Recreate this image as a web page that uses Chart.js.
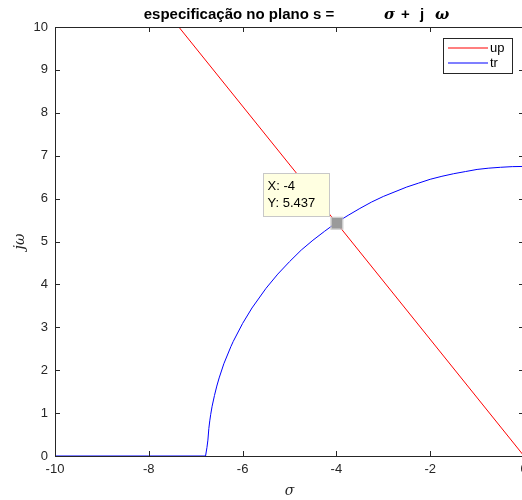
<!DOCTYPE html>
<html>
<head>
<meta charset="utf-8">
<script src="https://cdn.jsdelivr.net/npm/chart.js@4.4.0/dist/chart.umd.min.js"></script>
<style>
html, body { margin: 0; padding: 0; overflow: hidden; background: #fff; }
#wrap { width: 540px; height: 500px; }
</style>
</head>
<body>
<div id="wrap"><canvas id="plot"></canvas></div>
<script>
// valeurs
const upX = [-7.36, -4, 0];
const upY = [10, 5.437, 0];
const trX = [-10, -8, -6.79, -6.76, -6.74, -6.72, -6.7, -6.68, -6.65, -6.6, -6.55, -6.5, -6.4, -6.25, -6.2, -6, -5.8, -5.5, -5.25, -5, -4.75, -4.5, -4.25, -4, -3.75, -3.5, -3.25, -3, -2.75, -2.5, -2.25, -2, -1.75, -1.5, -1.25, -1, -0.75, -0.5, -0.25, 0];
const trY = [0, 0, 0, 0.2, 0.37, 0.64, 0.82, 0.97, 1.16, 1.41, 1.63, 1.82, 2.15, 2.55, 2.67, 3.09, 3.45, 3.91, 4.24, 4.53, 4.8, 5.03, 5.24, 5.44, 5.61, 5.77, 5.92, 6.05, 6.16, 6.27, 6.36, 6.45, 6.52, 6.58, 6.63, 6.68, 6.71, 6.73, 6.745, 6.75];
const seriesNames = ['up', 'tr'];
const seriesColors = ['#ff0000', '#0000ff'];
const xTicks = [-10, -8, -6, -4, -2, 0];
const yTicks = [0, 1, 2, 3, 4, 5, 6, 7, 8, 9, 10];
const marker = { x: -4, y: 5.437 };

const FONT = '"Liberation Sans", Arial, sans-serif';
const SERIF = '"DejaVu Serif", serif';
const AXIS = '#262626';

function toPoints(xs, ys) {
    return xs.map((x, i) => ({ x: x, y: ys[i] }));
}

// Graduations vers l'intérieur, titre, légende et étiquette du point
const decorPlugin = {
    id: 'decor',
    afterDraw(chart) {
        const ctx = chart.ctx;
        const a = chart.chartArea;
        const sx = chart.scales.x, sy = chart.scales.y;
        ctx.save();
        ctx.strokeStyle = AXIS;
        ctx.lineWidth = 1;
        ctx.beginPath();
        ctx.moveTo(a.left, a.top + 0.5);
        ctx.lineTo(a.right, a.top + 0.5);
        ctx.moveTo(a.right - 0.5, a.top);
        ctx.lineTo(a.right - 0.5, a.bottom);
        xTicks.forEach(v => {
            const px = Math.round(sx.getPixelForValue(v)) + 0.5;
            ctx.moveTo(px, a.bottom); ctx.lineTo(px, a.bottom - 5);
            ctx.moveTo(px, a.top); ctx.lineTo(px, a.top + 5);
        });
        yTicks.forEach(v => {
            const py = Math.round(sy.getPixelForValue(v)) + 0.5;
            ctx.moveTo(a.left, py); ctx.lineTo(a.left + 5, py);
            ctx.moveTo(a.right, py); ctx.lineTo(a.right - 5, py);
        });
        ctx.stroke();

        // titre
        ctx.fillStyle = '#000';
        ctx.textBaseline = 'alphabetic';
        ctx.font = 'bold 15px ' + FONT;
        const main = 'especificação no plano s =';
        const w = ctx.measureText(main).width;
        ctx.fillText(main, 239 - w / 2, 19);
        ctx.font = 'italic bold 15px ' + SERIF;
        ctx.fillText('σ', 384, 19);
        ctx.font = 'bold 15px ' + FONT;
        ctx.fillText('+', 401, 19);
        ctx.fillText('j', 420, 19);
        ctx.font = 'italic bold 15px ' + SERIF;
        ctx.fillText('ω', 435, 19);

        // légende
        const lx = 443, ly = 38, lw = 69, lh = 35;
        ctx.fillStyle = '#fff';
        ctx.fillRect(lx, ly, lw, lh);
        ctx.strokeStyle = '#262626';
        ctx.strokeRect(lx + 0.5, ly + 0.5, lw, lh);
        ctx.font = '13px ' + FONT;
        ctx.textBaseline = 'middle';
        seriesNames.forEach((name, i) => {
            const yy = ly + 10 + i * 15;
            ctx.strokeStyle = seriesColors[i];
            ctx.lineWidth = 1.2;
            ctx.beginPath();
            ctx.moveTo(lx + 5, yy);
            ctx.lineTo(lx + 45, yy);
            ctx.stroke();
            ctx.fillStyle = '#000';
            ctx.fillText(name, lx + 47, yy);
        });
        ctx.lineWidth = 1;

        // point marqué
        const mx = sx.getPixelForValue(marker.x);
        const my = sy.getPixelForValue(marker.y);
        ctx.fillStyle = '#9a9a9a';
        ctx.fillRect(mx - 5, my - 5, 11, 11);
        ctx.strokeStyle = '#c8c8c8';
        ctx.strokeRect(mx - 5.5, my - 5.5, 12, 12);

        const bx = Math.round(mx - 73) + 0.5, by = Math.round(my - 50) + 0.5;
        ctx.fillStyle = '#ffffe1';
        ctx.fillRect(bx, by, 66, 43);
        ctx.strokeStyle = '#c8c8c8';
        ctx.strokeRect(bx, by, 66, 43);
        ctx.fillStyle = '#000';
        ctx.font = '13px ' + FONT;
        ctx.textBaseline = 'middle';
        ctx.fillText('X: ' + marker.x, bx + 4, by + 13);
        ctx.fillText('Y: ' + marker.y, bx + 4, by + 30);
        ctx.restore();
    }
};

const plotCtx = document.getElementById('plot').getContext('2d');
const plotChart = new Chart(plotCtx, {
    type: 'scatter',
    data: {
        datasets: [{
            label: seriesNames[0],
            data: toPoints(upX, upY),
            showLine: true,
            borderColor: seriesColors[0],
            borderWidth: 1,
            pointRadius: 0
        }, {
            label: seriesNames[1],
            data: toPoints(trX, trY),
            showLine: true,
            borderColor: seriesColors[1],
            borderWidth: 1,
            pointRadius: 0
        }]
    },
    options: {
        responsive: true,
        maintainAspectRatio: false,
        animation: false,
        layout: { padding: { left: 0, right: 16, top: 27, bottom: 0 } },
        plugins: {
            legend: { display: false },
            title: { display: false },
            tooltip: { enabled: false }
        },
        scales: {
            x: {
                type: 'linear',
                min: -10,
                max: 0,
                afterBuildTicks: s => { s.ticks = xTicks.map(v => ({ value: v })); },
                afterFit: s => { s.height = 44; },
                grid: { drawOnChartArea: false, drawTicks: false },
                border: { color: AXIS },
                ticks: { color: AXIS, font: { family: FONT, size: 13 }, padding: 6, maxRotation: 0 },
                title: {
                    display: true,
                    text: 'σ',
                    color: AXIS,
                    font: { family: SERIF, size: 14, style: 'italic' },
                    padding: { top: 2, bottom: 0 }
                }
            },
            y: {
                type: 'linear',
                min: 0,
                max: 10,
                afterBuildTicks: s => { s.ticks = yTicks.map(v => ({ value: v })); },
                afterFit: s => { s.width = 55; },
                grid: { drawOnChartArea: false, drawTicks: false },
                border: { color: AXIS },
                ticks: { color: AXIS, font: { family: FONT, size: 13 }, padding: 7 },
                title: {
                    display: true,
                    text: 'jω',
                    color: AXIS,
                    font: { family: SERIF, size: 14, style: 'italic' },
                    padding: { top: 12, bottom: 4 }
                }
            }
        }
    },
    plugins: [decorPlugin]
});
</script>
</body>
</html>
